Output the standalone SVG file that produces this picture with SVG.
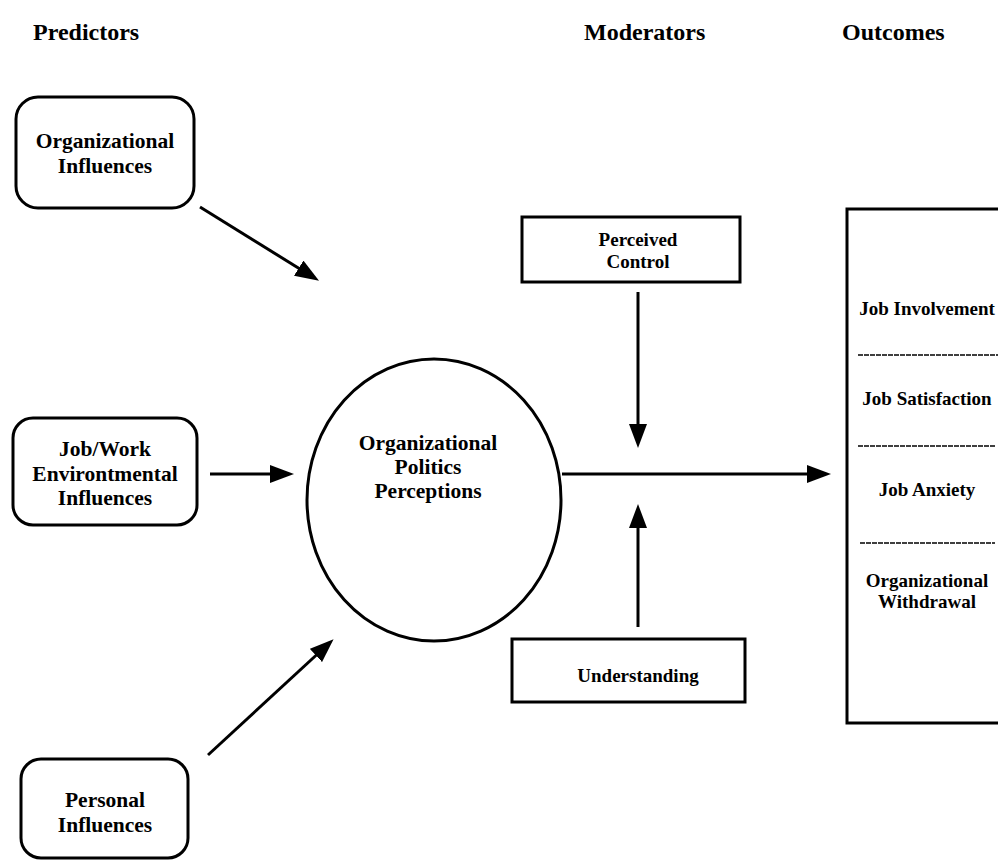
<svg xmlns="http://www.w3.org/2000/svg" width="998" height="860" viewBox="0 0 998 860">
<style>
  .hdr { font-family: "Liberation Serif", "Times New Roman", serif; font-weight: bold; font-size: 24px; fill: #000; }
  .lbl { font-family: "Liberation Serif", "Times New Roman", serif; font-weight: bold; font-size: 21.5px; fill: #000; text-anchor: middle; }
  .sm { font-size: 19px; }
  .box { fill: #fff; stroke: #000; stroke-width: 3; }
  .conn { stroke: #000; stroke-width: 3; fill: none; marker-end: url(#ah); }
  .dash { stroke: #000; stroke-width: 1.5; stroke-dasharray: 5 1; fill: none; }
</style>
<defs>
  <marker id="ah" markerUnits="userSpaceOnUse" markerWidth="24" markerHeight="18" viewBox="0 0 24 18" refX="11" refY="9" orient="auto">
    <path d="M0,0 L24,9 L0,18 z" fill="#000"/>
  </marker>
</defs>
<rect width="998" height="860" fill="#fff"/>

<g id="headers">
  <text class="hdr" x="33" y="40">Predictors</text>
  <text class="hdr" x="584" y="40">Moderators</text>
  <text class="hdr" x="842" y="40">Outcomes</text>
</g>

<g id="org-influences">
  <rect class="box" x="16" y="97" width="178" height="111" rx="22"/>
  <text class="lbl" x="105" y="148">Organizational</text>
  <text class="lbl" x="105" y="173">Influences</text>
</g>

<g id="job-work">
  <rect class="box" x="13" y="418" width="184" height="107" rx="20"/>
  <text class="lbl" x="105" y="456">Job/Work</text>
  <text class="lbl" x="105" y="481">Environtmental</text>
  <text class="lbl" x="105" y="505">Influences</text>
</g>

<g id="personal">
  <rect class="box" x="21" y="759" width="167" height="99" rx="20"/>
  <text class="lbl" x="105" y="807">Personal</text>
  <text class="lbl" x="105" y="832">Influences</text>
</g>

<g id="politics">
  <ellipse class="box" cx="434" cy="500" rx="127" ry="141"/>
  <text class="lbl" x="428" y="450">Organizational</text>
  <text class="lbl" x="428" y="474">Politics</text>
  <text class="lbl" x="428" y="498">Perceptions</text>
</g>

<g id="perceived-control">
  <rect class="box" x="522" y="217" width="218" height="65"/>
  <text class="lbl sm" x="638" y="246">Perceived</text>
  <text class="lbl sm" x="638" y="268">Control</text>
</g>

<g id="understanding">
  <rect class="box" x="512" y="639" width="233" height="63"/>
  <text class="lbl sm" x="638" y="682">Understanding</text>
</g>

<g id="outcomes">
  <rect class="box" x="847" y="209" width="200" height="514"/>
  <text class="lbl sm" x="927" y="315">Job  Involvement</text>
  <line class="dash" x1="858" y1="355" x2="998" y2="355"/>
  <text class="lbl sm" x="927" y="405">Job Satisfaction</text>
  <line class="dash" x1="858" y1="446" x2="996" y2="446"/>
  <text class="lbl sm" x="927" y="496">Job Anxiety</text>
  <line class="dash" x1="860" y1="543" x2="995" y2="543"/>
  <text class="lbl sm" x="927" y="587">Organizational</text>
  <text class="lbl sm" x="927" y="608">Withdrawal</text>
</g>

<g id="connectors">
  <line class="conn" x1="200" y1="207" x2="308" y2="274"/>
  <line class="conn" x1="210" y1="474" x2="281" y2="474"/>
  <line class="conn" x1="208" y1="755" x2="324" y2="648"/>
  <line class="conn" x1="562" y1="474" x2="818" y2="474"/>
  <line class="conn" x1="638" y1="292" x2="638" y2="435"/>
  <line class="conn" x1="638" y1="627" x2="638" y2="517"/>
</g>
</svg>
